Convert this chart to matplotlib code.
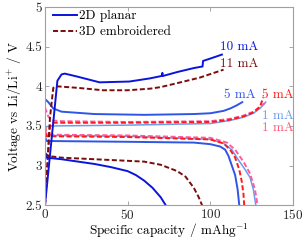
import matplotlib
matplotlib.use('Agg')
import matplotlib.pyplot as plt

plt.rcParams['font.family'] = 'cmr10'
plt.rcParams['mathtext.fontset'] = 'cm'
plt.rcParams['axes.formatter.use_mathtext'] = True
plt.rcParams['font.size'] = 9.5

# 2D planar, 10 mA
p10_chg_x = [0, 7.5, 10, 12, 20, 33, 51, 63.5, 70.5, 71, 71.3, 80, 90, 95.3, 95.6, 100, 107]
p10_chg_y = [2.5, 4.07, 4.15, 4.16, 4.12, 4.05, 4.06, 4.1, 4.13, 4.17, 4.13, 4.18, 4.23, 4.25, 4.32, 4.35, 4.40]
p10_dis_x = [0, 1, 10, 20, 30, 40, 50, 55, 60, 65, 70, 73]
p10_dis_y = [3.15, 3.1, 3.08, 3.05, 3.02, 2.98, 2.93, 2.88, 2.81, 2.72, 2.6, 2.5]

# 2D planar, 5 mA
p5_chg_x = [0, 2, 5, 10, 30, 60, 90, 100, 108, 112, 116, 119.3]
p5_chg_y = [3.84, 3.8, 3.72, 3.68, 3.65, 3.64, 3.65, 3.66, 3.69, 3.72, 3.76, 3.8]
p5_dis_x = [0, 1, 50, 90, 100, 106, 109, 111, 113, 115, 116.5, 117.5]
p5_dis_y = [3.36, 3.31, 3.3, 3.29, 3.27, 3.24, 3.2, 3.12, 3.0, 2.88, 2.7, 2.5]

# 2D planar, 1 mA
p1_chg_x = [0, 0.5, 5, 50, 100, 112, 120, 126, 130, 133.5]
p1_chg_y = [3.43, 3.49, 3.5, 3.51, 3.53, 3.57, 3.61, 3.66, 3.72, 3.8]
p1_dis_x = [0, 0.5, 50, 100, 108, 113, 117, 121, 124, 126, 127.5]
p1_dis_y = [3.43, 3.38, 3.37, 3.33, 3.28, 3.2, 3.07, 2.95, 2.85, 2.7, 2.5]

# 3D embroidered, 11 mA
e11_chg_x = [0, 3, 5, 7, 20, 35, 50, 63.5, 70, 80, 93.7, 108]
e11_chg_y = [2.5, 3.6, 3.98, 4.0, 3.98, 3.95, 3.95, 3.97, 3.99, 4.04, 4.11, 4.21]
e11_dis_x = [0, 2, 10, 20, 40, 60, 70, 80, 85, 90, 93, 95]
e11_dis_y = [3.16, 3.12, 3.1, 3.09, 3.07, 3.05, 3.01, 2.93, 2.86, 2.72, 2.6, 2.5]

# 3D embroidered, 5 mA
e5_chg_x = [0, 3, 5, 50, 100, 110, 120, 126, 130, 132]
e5_chg_y = [2.5, 3.5, 3.54, 3.54, 3.55, 3.57, 3.62, 3.67, 3.74, 3.86]
e5_dis_x = [0, 1, 50, 100, 108, 112, 115, 117.5, 119, 120, 120.5]
e5_dis_y = [3.5, 3.37, 3.36, 3.33, 3.28, 3.2, 3.1, 2.95, 2.8, 2.65, 2.5]

# 3D embroidered, 1 mA
e1_chg_x = [0, 2, 4, 10, 50, 100, 112, 120, 126, 130, 133]
e1_chg_y = [3.73, 3.62, 3.57, 3.56, 3.55, 3.56, 3.59, 3.63, 3.68, 3.74, 3.79]
e1_dis_x = [0, 1, 50, 100, 110, 115, 120, 124, 127, 128.5]
e1_dis_y = [3.45, 3.39, 3.38, 3.35, 3.29, 3.2, 3.05, 2.9, 2.7, 2.5]

labels = ['10 mA', '11 mA', '5 mA', '5 mA', '1 mA', '1 mA']
label_x = [106, 106, 108, 131, 131.5, 131.5]
label_y = [4.5, 4.28, 3.89, 3.89, 3.62, 3.47]

c_p10 = '#0a14dc'
c_p5 = '#2f55e6'
c_p1 = '#6c9cf0'
c_e11 = '#7a0c0c'
c_e5 = '#ff1a1a'
c_e1 = '#ff5c9e'
label_colors = [c_p10, c_e11, c_p5, c_e5, c_p1, '#ff5a7a']

fig = plt.figure(figsize=(3.03, 2.42), dpi=100)
ax = fig.add_axes([0.1485, 0.152, 0.8185, 0.819])

lw = 1.4
dash = (2.6, 1.3)

ax.plot(p1_chg_x, p1_chg_y, color=c_p1, lw=1.1)
ax.plot(p1_dis_x, p1_dis_y, color=c_p1, lw=1.1)
ax.plot(e1_chg_x, e1_chg_y, color=c_e1, lw=lw, dashes=dash)
ax.plot(e1_dis_x, e1_dis_y, color=c_e1, lw=lw, dashes=dash)
ax.plot(e5_chg_x, e5_chg_y, color=c_e5, lw=lw, dashes=dash)
ax.plot(e5_dis_x, e5_dis_y, color=c_e5, lw=lw, dashes=dash)
ax.plot(p5_chg_x, p5_chg_y, color=c_p5, lw=lw)
ax.plot(p5_dis_x, p5_dis_y, color=c_p5, lw=lw)
ax.plot(e11_chg_x, e11_chg_y, color=c_e11, lw=lw, dashes=dash)
ax.plot(e11_dis_x, e11_dis_y, color=c_e11, lw=lw, dashes=dash)
ax.plot(p10_chg_x, p10_chg_y, color=c_p10, lw=lw)
ax.plot(p10_dis_x, p10_dis_y, color=c_p10, lw=lw)

for t, x, y, c in zip(labels, label_x, label_y, label_colors):
    ax.text(x, y, t, color=c, ha='left', va='center')

# legend proxies
h1, = ax.plot([], [], color=c_p10, lw=lw, label='2D planar')
h2, = ax.plot([], [], color=c_e11, lw=lw, dashes=dash, label='3D embroidered')
ax.legend(handles=[h1, h2], loc='upper left', frameon=False,
          bbox_to_anchor=(0.032, 0.985), borderaxespad=0, borderpad=0,
          handlelength=1.8, handletextpad=0.2, labelspacing=0.3)

ax.set_xlim(0, 150)
ax.set_ylim(2.5, 5)
ax.set_xticks([0, 50, 100, 150])
ax.set_yticks([2.5, 3, 3.5, 4, 4.5, 5])
ax.set_yticklabels(['2.5', '3', '3.5', '4', '4.5', '5'])
ax.tick_params(direction='in', length=3, width=0.6, color='#999999',
               top=True, right=True, labelcolor='#262626', pad=2)
for s in ax.spines.values():
    s.set_color('#a0a0a0')
    s.set_linewidth(0.8)

ax.set_xlabel('Specific capacity / mAhg$^{-1}$', labelpad=0)
ax.set_ylabel('Voltage vs Li/Li$^{+}$ / V', labelpad=2)

fig.savefig('out.png', dpi=100)
